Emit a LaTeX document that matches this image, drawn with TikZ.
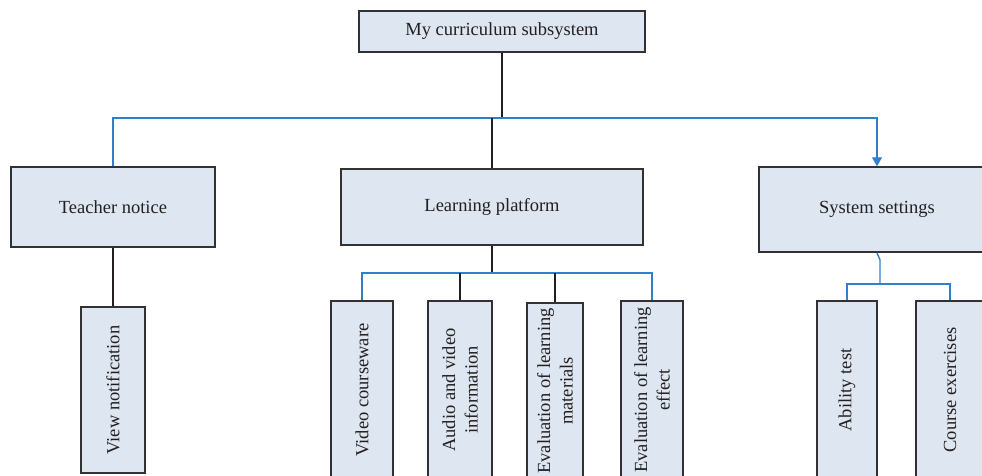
\documentclass[tikz,border=0pt]{standalone}
\usepackage{fontspec}
\setmainfont{Liberation Serif}
\usetikzlibrary{arrows.meta}
\definecolor{boxfill}{RGB}{222,231,241}
\definecolor{boxline}{RGB}{50,50,50}
\definecolor{linkblue}{RGB}{46,128,204}
\definecolor{textgray}{RGB}{35,31,32}
\begin{document}
\begin{tikzpicture}
		[x=1pt,y=-1pt,
		box1/.style={rectangle,draw=boxline,fill=boxfill,line width=1.5pt,
inner sep=0pt,text=textgray,font=\fontsize{18.5}{22.5}\selectfont},
		box2/.style={box1,rotate=90,align=center},
		blueedge/.style={draw=linkblue,line width=1.4pt},
		blackedge/.style={draw=textgray,line width=1.4pt}]
		\useasboundingbox (0,0) rectangle (982,476);
		\clip (0,0) rectangle (982,476);
		\node at (502,31.5) (top) [box1,minimum width=286pt,minimum height=41pt] {My curriculum subsystem};
		\node at (113,207) (teach) [box1,minimum width=204pt,minimum height=80pt] {Teacher notice};
		\node at (492,207) (learn) [box1,minimum width=302pt,minimum height=76pt] {Learning platform};
		\node at (877,209.5) (sys) [box1,minimum width=236pt,minimum height=85pt] {System settings};
		\node at (113,390) (view) [box2,minimum width=166pt,minimum height=64pt] {View notification};
		\node at (362,390) (video) [box2,minimum width=178pt,minimum height=62pt] {Video courseware};
		\node at (460,390) (audio) [box2,minimum width=178pt,minimum height=64pt] {Audio and video\\information};
		\node at (555,391) (evmat) [box2,minimum width=176pt,minimum height=56pt] {Evaluation of learning\\materials};
		\node at (652,390) (eveff) [box2,minimum width=178pt,minimum height=62pt] {Evaluation of learning\\effect};
		\node at (847,390) (abil) [box2,minimum width=178pt,minimum height=60pt] {Ability test};
		\node at (950,390) (course) [box2,minimum width=178pt,minimum height=68pt] {Course exercises};
		\coordinate (j1) at (502,118);
		\coordinate (j1b) at (492,118);
		\coordinate (j2) at (492,273);
		\coordinate (j3) at (880,284);
		\coordinate (k3) at (880,260);
		\draw[blackedge] (top.south) -- (j1);
		\draw[blueedge,-{Triangle[width=10pt,length=9pt]}] (teach.north) |- (j1) -| (sys.north);
		\draw[blackedge] (j1b) -- (j1b |- learn.north);
		\draw[blackedge] (teach.south) -- (view.east);
		\draw[blackedge] (learn.south) -- (j2);
		\draw[blueedge] (video.east) |- (j2) -| (eveff.east);
		\draw[blackedge] (j2 -| audio.east) -- (audio.east);
		\draw[blackedge] (j2 -| evmat.east) -- (evmat.east);
		\draw[blueedge] (sys.south) -- (k3) -- (j3);
		\draw[blueedge] (abil.east) |- (j3) -| (course.east);
	\end{tikzpicture}
\end{document}
